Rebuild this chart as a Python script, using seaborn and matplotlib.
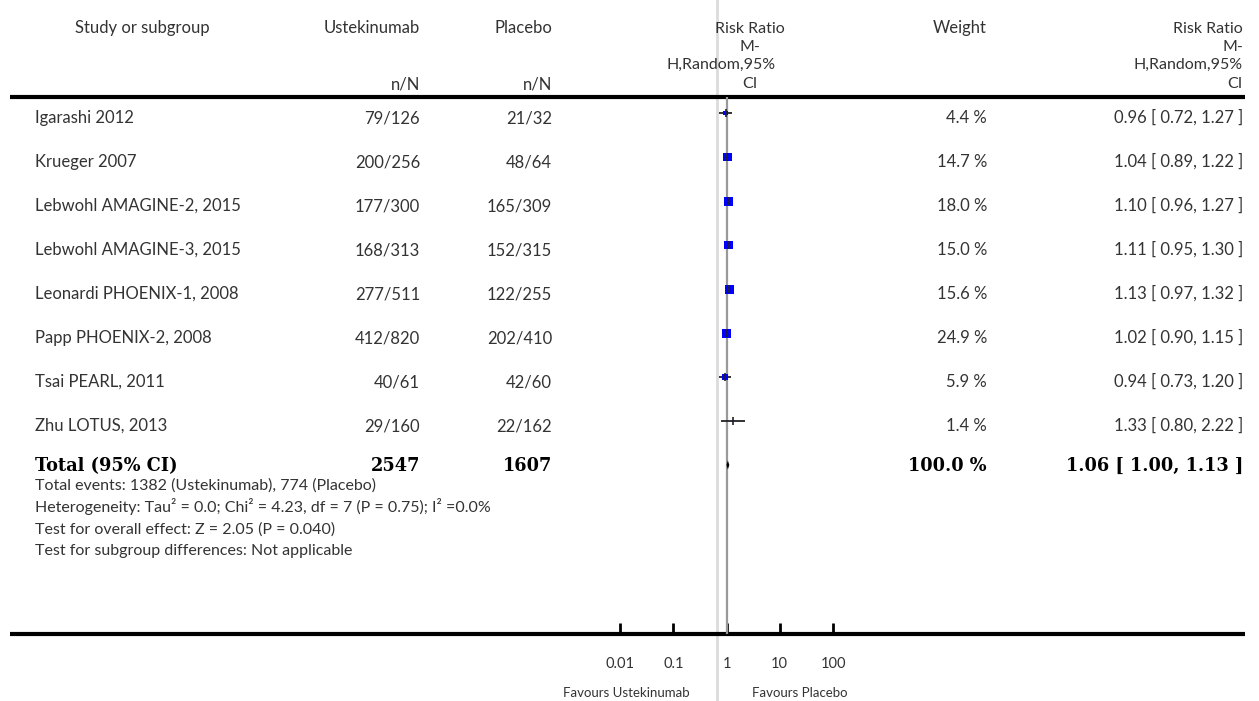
import numpy as np
import matplotlib
matplotlib.use("Agg")
import matplotlib.pyplot as plt
import seaborn as sns

# ---------------- data ----------------
studies = ["Igarashi 2012", "Krueger 2007", "Lebwohl AMAGINE-2, 2015",
           "Lebwohl AMAGINE-3, 2015", "Leonardi PHOENIX-1, 2008",
           "Papp PHOENIX-2, 2008", "Tsai PEARL, 2011", "Zhu LOTUS, 2013"]
ust_events = [79, 200, 177, 168, 277, 412, 40, 29]
ust_total = [126, 256, 300, 313, 511, 820, 61, 160]
pla_events = [21, 48, 165, 152, 122, 202, 42, 22]
pla_total = [32, 64, 309, 315, 255, 410, 60, 162]
weights = [4.4, 14.7, 18.0, 15.0, 15.6, 24.9, 5.9, 1.4]
rr = [0.96, 1.04, 1.10, 1.11, 1.13, 1.02, 0.94, 1.33]
rr_lo = [0.72, 0.89, 0.96, 0.95, 0.97, 0.90, 0.73, 0.80]
rr_hi = [1.27, 1.22, 1.27, 1.30, 1.32, 1.15, 1.20, 2.22]
total_rr, total_lo, total_hi = 1.06, 1.00, 1.13
total_weight = 100.0
tick_values = [0.01, 0.1, 1, 10, 100]
tick_labels = ["0.01", "0.1", "1", "10", "100"]
footnotes = ["Total events: 1382 (Ustekinumab), 774 (Placebo)",
             "Heterogeneity: Tau\u00b2 = 0.0; Chi\u00b2 = 4.23, df = 7 (P = 0.75); I\u00b2 =0.0%",
             "Test for overall effect: Z = 2.05 (P = 0.040)",
             "Test for subgroup differences: Not applicable"]
left_label = "Favours Ustekinumab"
right_label = "Favours Placebo"

# ---------------- style ----------------
sns.set_theme(style="white")
plt.rcParams["font.family"] = ["Lato", "DejaVu Sans"]
TXT = "#333333"
FS = 12
FS_FOOT = 11.5
FS_TICK = 10.5
FS_FAV = 9.5

W, H = 1259, 701
fig = plt.figure(figsize=(W / 100, H / 100), dpi=100)
bg = fig.add_axes([0, 0, 1, 1])
bg.set_xlim(0, W)
bg.set_ylim(H, 0)
bg.axis("off")

ROW0, ROWH = 113, 44          # pixel centre of first study row, row spacing
TOP_RULE, BOT_RULE = 97, 634
X_NAME, X_UST, X_PLA, X_W, X_RR = 35, 420, 552, 987, 1243

# separator line
bg.plot([717, 717], [0, H], color="#dcdcdc", lw=2, zorder=1)

# header
bg.text(142, 33, "Study or subgroup", ha="center", va="baseline", fontsize=FS, color=TXT)
bg.text(X_UST, 33, "Ustekinumab", ha="right", va="baseline", fontsize=FS, color=TXT)
bg.text(X_PLA, 33, "Placebo", ha="right", va="baseline", fontsize=FS, color=TXT)
bg.text(X_UST, 90, "n/N", ha="right", va="baseline", fontsize=FS, color=TXT)
bg.text(X_PLA, 90, "n/N", ha="right", va="baseline", fontsize=FS, color=TXT)
bg.text(X_W, 33, "Weight", ha="right", va="baseline", fontsize=FS, color=TXT)
hdr = ["Risk Ratio", "M-", "H,Random,95%", "CI"]
hdr_y = [33, 51, 69, 88]
for s, y in zip(hdr, hdr_y):
    if s == "H,Random,95%":
        bg.text(776, y, s, ha="right", va="baseline", fontsize=FS - 0.5, color=TXT)
    else:
        bg.text(750, y, s, ha="center", va="baseline", fontsize=FS - 0.5, color=TXT)
    bg.text(X_RR, y, s, ha="right", va="baseline", fontsize=FS - 0.5, color=TXT)

# rules
bg.plot([10, 1245], [TOP_RULE, TOP_RULE], color="black", lw=3, solid_capstyle="butt", zorder=2)
bg.plot([10, 1245], [BOT_RULE, BOT_RULE], color="black", lw=3, solid_capstyle="butt", zorder=2)

# study rows
for i, name in enumerate(studies):
    yb = ROW0 + ROWH * i + 10
    bg.text(X_NAME, yb, name, ha="left", va="baseline", fontsize=FS, color=TXT)
    bg.text(X_UST, yb, f"{ust_events[i]}/{ust_total[i]}", ha="right", va="baseline", fontsize=FS, color=TXT)
    bg.text(X_PLA, yb, f"{pla_events[i]}/{pla_total[i]}", ha="right", va="baseline", fontsize=FS, color=TXT)
    bg.text(X_W, yb, f"{weights[i]:.1f} %", ha="right", va="baseline", fontsize=FS, color=TXT)
    bg.text(X_RR, yb, f"{rr[i]:.2f} [ {rr_lo[i]:.2f}, {rr_hi[i]:.2f} ]", ha="right",
            va="baseline", fontsize=FS, color=TXT)

# total row
n = len(studies)
yb = ROW0 + ROWH * n + 6
bold = dict(family=["DejaVu Serif"], fontweight="bold", fontsize=12.8, color="black")
bg.text(X_NAME, yb, "Total (95% CI)", ha="left", va="baseline", **bold)
bg.text(X_UST, yb, f"{sum(ust_total)}", ha="right", va="baseline", **bold)
bg.text(X_PLA, yb, f"{sum(pla_total)}", ha="right", va="baseline", **bold)
bg.text(X_W, yb, f"{total_weight:.1f} %", ha="right", va="baseline", **bold)
bg.text(X_RR, yb, f"{total_rr:.2f} [ {total_lo:.2f}, {total_hi:.2f} ]", ha="right", va="baseline", **bold)

for k, s in enumerate(footnotes):
    bg.text(X_NAME, 490 + 21.7 * k, s, ha="left", va="baseline", fontsize=FS_FOOT, color=TXT)

# favours labels
bg.text(690, 697, left_label, ha="right", va="baseline", fontsize=FS_FAV, color=TXT)
bg.text(752, 697, right_label, ha="left", va="baseline", fontsize=FS_FAV, color=TXT)

# ---------------- forest axes ----------------
x0, x1 = 620, 833
fax = fig.add_axes([x0 / W, 1 - BOT_RULE / H, (x1 - x0) / W, (BOT_RULE - TOP_RULE) / H])
fax.set_xscale("log")
fax.set_xlim(tick_values[0], tick_values[-1])
fax.set_ylim((BOT_RULE - ROW0) / ROWH, (TOP_RULE - ROW0) / ROWH)
fax.patch.set_alpha(0)
for sp in fax.spines.values():
    sp.set_visible(False)
fax.set_xticks(tick_values)
fax.set_xticklabels(tick_labels)
fax.minorticks_off()
fax.tick_params(axis="x", direction="in", length=8, width=2, color="black", pad=16.5,
                labelsize=FS_TICK, labelcolor=TXT, bottom=True)
fax.set_yticks([])

rows = np.arange(n)
fax.axvline(1, color="#999999", lw=1.6, zorder=1)
fax.hlines(rows, rr_lo, rr_hi, color="#222222", lw=1.3, zorder=2)
side_px = np.clip(np.sqrt(np.array(weights)) * 2.3, 0, 9)
sizes = (side_px * 0.72) ** 2
sns.scatterplot(x=rr, y=rows, marker="s", s=sizes, color="#0000ff", linewidth=0,
                ax=fax, zorder=3, legend=False)
fax.scatter(rr, rows, marker="|", s=30, color="#222222", linewidths=1.2, zorder=4)
h = 4.5 / ROWH
fax.fill([total_lo, total_rr, total_hi, total_rr], [n, n - h, n, n + h],
         color="black", lw=0, zorder=4)
fax.set_xlabel("")
fax.set_ylabel("")

fig.savefig("out.png", dpi=100)
